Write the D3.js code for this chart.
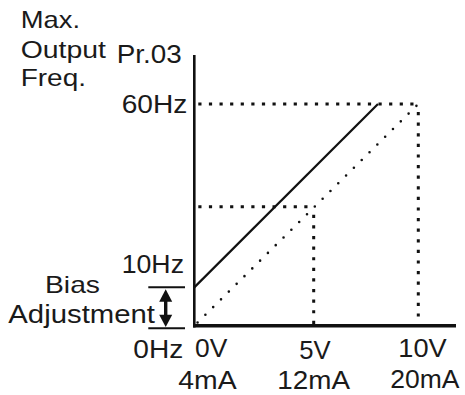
<!DOCTYPE html>
<html>
<head>
<meta charset="utf-8">
<script src="https://cdn.jsdelivr.net/npm/d3@7/dist/d3.min.js"></script>
<style>
  html, body { margin: 0; padding: 0; background: #fff; }
  svg { display: block; }
  text { font-family: "Liberation Sans", Arial, Helvetica, sans-serif; fill: #1a1a1a; }
</style>
</head>
<body>
<svg id="chart" width="465" height="395"></svg>
<script>
// ---- data ----
const titleLines = ["Max.", "Output", "Freq."];
const yParamLabel = "Pr.03";
const voltTicks = [0, 5.33, 10];
const voltLabels = ["0V", "5V", "10V"];
const currentLabels = ["4mA", "12mA", "20mA"];
const freqTicks = [0, 10.4, 60];
const freqLabels = ["0Hz", "10Hz", "60Hz"];
const biasLine = [[0, 10.4], [8.2, 60]];      // solid line, with bias
const noBiasLine = [[0, 0], [10, 60]];        // dotted line, without bias
const midPoint = [5.33, 32.2];
const maxPoint = [10, 60];
const biasLabel = ["Bias", "Adjustment"];

// ---- layout ----
const svg = d3.select("#chart");
const x = d3.scaleLinear().domain([0, 10]).range([194.3, 418.3]);
const y = d3.scaleLinear().domain([0, 60]).range([325.8, 104]);
const ink = "#111";

// dotted reference lines (square dots)
const sq = { "stroke": ink, "stroke-width": 3, "stroke-dasharray": "3.2,7.4", "fill": "none" };
function seg(x1, y1, x2, y2, style, offset) {
  const l = svg.append("line").attr("x1", x1).attr("y1", y1).attr("x2", x2).attr("y2", y2);
  Object.entries(style).forEach(([k, v]) => l.attr(k, v));
  if (offset !== undefined) l.attr("stroke-dashoffset", offset);
  return l;
}
seg(x(0) + 3, y(maxPoint[1]), x(maxPoint[0]), y(maxPoint[1]), sq, -1);
seg(x(maxPoint[0]), y(maxPoint[1]) + 8, x(maxPoint[0]), y(0), sq, 0);
seg(x(0) + 3, y(midPoint[1]), x(midPoint[0]), y(midPoint[1]), sq, -1);
seg(x(midPoint[0]), y(midPoint[1]) + 8, x(midPoint[0]), y(0), sq, 0);

// diagonal lines
const line = d3.line().x(d => x(d[0])).y(d => y(d[1]));
svg.append("path").attr("d", line(noBiasLine))
  .attr("fill", "none").attr("stroke", ink).attr("stroke-width", 2.6)
  .attr("stroke-linecap", "round").attr("stroke-dasharray", "0,11")
  .attr("stroke-dashoffset", -4.6);
svg.append("path").attr("d", line(biasLine))
  .attr("fill", "none").attr("stroke", ink).attr("stroke-width", 2.2);

// axes
svg.append("line").attr("x1", x(0)).attr("x2", x(0)).attr("y1", 55).attr("y2", y(0) + 1.8)
  .attr("stroke", ink).attr("stroke-width", 2.6);
svg.append("line").attr("x1", x(0) - 1.2).attr("x2", 456).attr("y1", y(0)).attr("y2", y(0))
  .attr("stroke", ink).attr("stroke-width", 3.6);

// texts
function txt(s, xx, yy, size, len, anchor) {
  const t = svg.append("text").attr("x", xx).attr("y", yy).attr("font-size", size).text(s);
  if (anchor) t.attr("text-anchor", anchor);
  if (len) t.attr("textLength", len).attr("lengthAdjust", "spacingAndGlyphs");
  return t;
}
// title
const titleBase = [28.3, 58.3, 86.3];
const titleLen = [59.3, 85.3, 65.3];
titleLines.forEach((s, i) => txt(s, 20.7, titleBase[i], 24, titleLen[i]));
txt(yParamLabel, 116.7, 63.3, 25.5, 65);

// frequency labels (right aligned to axis)
const fBase = [358, 273.3, 113.3];
const fStart = [133.3, 121.7, 121.7];
const fLen = [50, 62.3, 65.6];
freqLabels.forEach((s, i) => txt(s, fStart[i], fBase[i], 26.5, fLen[i]));

// x labels
const vStart = [195, 299.3, 398.3];
const vLen = [32.3, 31.4, 48.4];
const vBase = [357.3, 359.3, 357.3];
voltLabels.forEach((s, i) => txt(s, vStart[i], vBase[i], 26.5, vLen[i]));
const cStart = [178.3, 277.3, 390.3];
const cLen = [58.4, 72.7, 69.2];
const cBase = [389.3, 388.8, 388.3];
currentLabels.forEach((s, i) => txt(s, cStart[i], cBase[i], 26, cLen[i]));

// bias annotation
txt(biasLabel[0], 45, 293.3, 24, 55);
txt(biasLabel[1], 8.3, 323.3, 25, 146.7);
const bx1 = 148.3, bx2 = 185, ax = 165.7;
const yTop = y(freqTicks[1]), yBot = y(0) + 2.5;
svg.append("line").attr("x1", bx1).attr("x2", bx2).attr("y1", yTop).attr("y2", yTop)
  .attr("stroke", ink).attr("stroke-width", 2);
svg.append("line").attr("x1", bx1).attr("x2", bx2).attr("y1", yBot).attr("y2", yBot)
  .attr("stroke", ink).attr("stroke-width", 2);
svg.append("line").attr("x1", ax).attr("x2", ax).attr("y1", yTop + 12).attr("y2", yBot - 11)
  .attr("stroke", ink).attr("stroke-width", 3.4);
svg.append("path")
  .attr("d", `M${ax},${yTop + 1.8} L${ax - 6.5},${yTop + 14.5} L${ax + 6.5},${yTop + 14.5} Z`)
  .attr("fill", ink);
svg.append("path")
  .attr("d", `M${ax},${yBot - 1.2} L${ax - 6.5},${yBot - 13.5} L${ax + 6.5},${yBot - 13.5} Z`)
  .attr("fill", ink);
</script>
</body>
</html>
